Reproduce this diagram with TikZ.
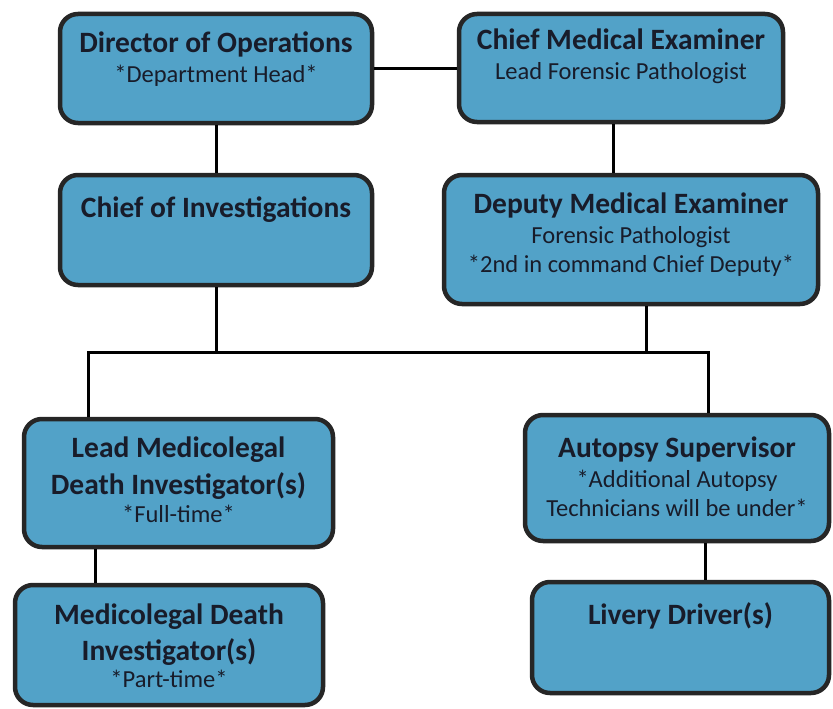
\documentclass[tikz,border=0pt]{standalone}
\usepackage{fontspec}
\setmainfont{Carlito}
\usetikzlibrary{positioning}
\definecolor{boxblue}{HTML}{52A2C8}
\definecolor{ink}{HTML}{181C2A}
\newcommand{\hd}[1]{{\bfseries\fontsize{29.5}{29.5}\selectfont #1}}

\begin{document}
\begin{tikzpicture}[x=1pt, y=-1pt, line width=3pt,
		box/.style={draw=black!85, line width=4.5pt, fill=boxblue, rounded corners=18pt},
		txt/.style={anchor=north, align=center, inner sep=0pt, text=ink, font=\fontsize{24.5}{29.5}\selectfont}]
			\useasboundingbox (0,0) rectangle (833,709);

			\node[box, minimum width=312pt, minimum height=109pt] (dir) at (216,68.5) {};
			\node[box, minimum width=324pt, minimum height=108pt] (cme) at (621,68) {};
			\node[box, minimum width=312pt, minimum height=110pt] (inv) at (216,230) {};
			\node[box, minimum width=374pt, minimum height=129pt] (dep) at (631,239.5) {};
			\node[box, minimum width=309pt, minimum height=128pt] (lead) at (178.5,483) {};
			\node[box, minimum width=304pt, minimum height=126pt] (aut) at (677,478) {};
			\node[box, minimum width=308pt, minimum height=120pt] (mdi) at (169,645) {};
			\node[box, minimum width=297pt, minimum height=111pt] (liv) at (680.5,637.5) {};

			\node[txt, below=19pt of dir.north] (dirT) {\hd{Director of Operations}\\ *Department Head*};
			\node[txt, below=16pt of cme.north] (cmeT) {\hd{Chief Medical Examiner}\\ Lead Forensic Pathologist};
			\node[txt, below=23pt of inv.north] (invT) {\hd{Chief of Investigations}};
			\node[txt, below=19pt of dep.north] (depT) {\hd{Deputy Medical Examiner}\\ Forensic Pathologist\\ *2nd in command Chief Deputy*};
			\node[txt, below=19pt of lead.north] (leadT) {\hd{Lead Medicolegal}\\[7pt] \hd{Death Investigator(s)}\\[-1pt] *Full-time*};
			\node[txt, below=23pt of aut.north] (autT) {\hd{Autopsy Supervisor}\\ *Additional Autopsy\\ Technicians will be under*};
			\node[txt, below=20pt of mdi.north] (mdiT) {\hd{Medicolegal Death}\\[6pt] \hd{Investigator(s)}\\[-2pt] *Part-time*};
			\node[txt, below=21pt of liv.north] (livT) {\hd{Livery Driver(s)}};

			\coordinate (busL) at (88,352);
			\coordinate (busR) at (708,352);

			\draw (dir.east) -- (dir.east -| cme.west);
			\draw (dir.south) -- (inv.north);
			\draw ([xshift=-8pt]cme.south) -- ([xshift=-8pt]cme.south |- dep.north);
			\draw (inv.south) -- (inv.south |- busL);
			\draw ([xshift=15pt]dep.south) -- ([xshift=15pt]dep.south |- busR);
			\draw (busL |- lead.north) -- (busL) -- (busR) -- (busR |- aut.north);
			\draw ([xshift=7pt]busL |- lead.south) -- ([xshift=7pt]busL |- mdi.north);
			\draw ([xshift=-3pt]busR |- aut.south) -- ([xshift=-3pt]busR |- liv.north);
		\end{tikzpicture}
\end{document}
